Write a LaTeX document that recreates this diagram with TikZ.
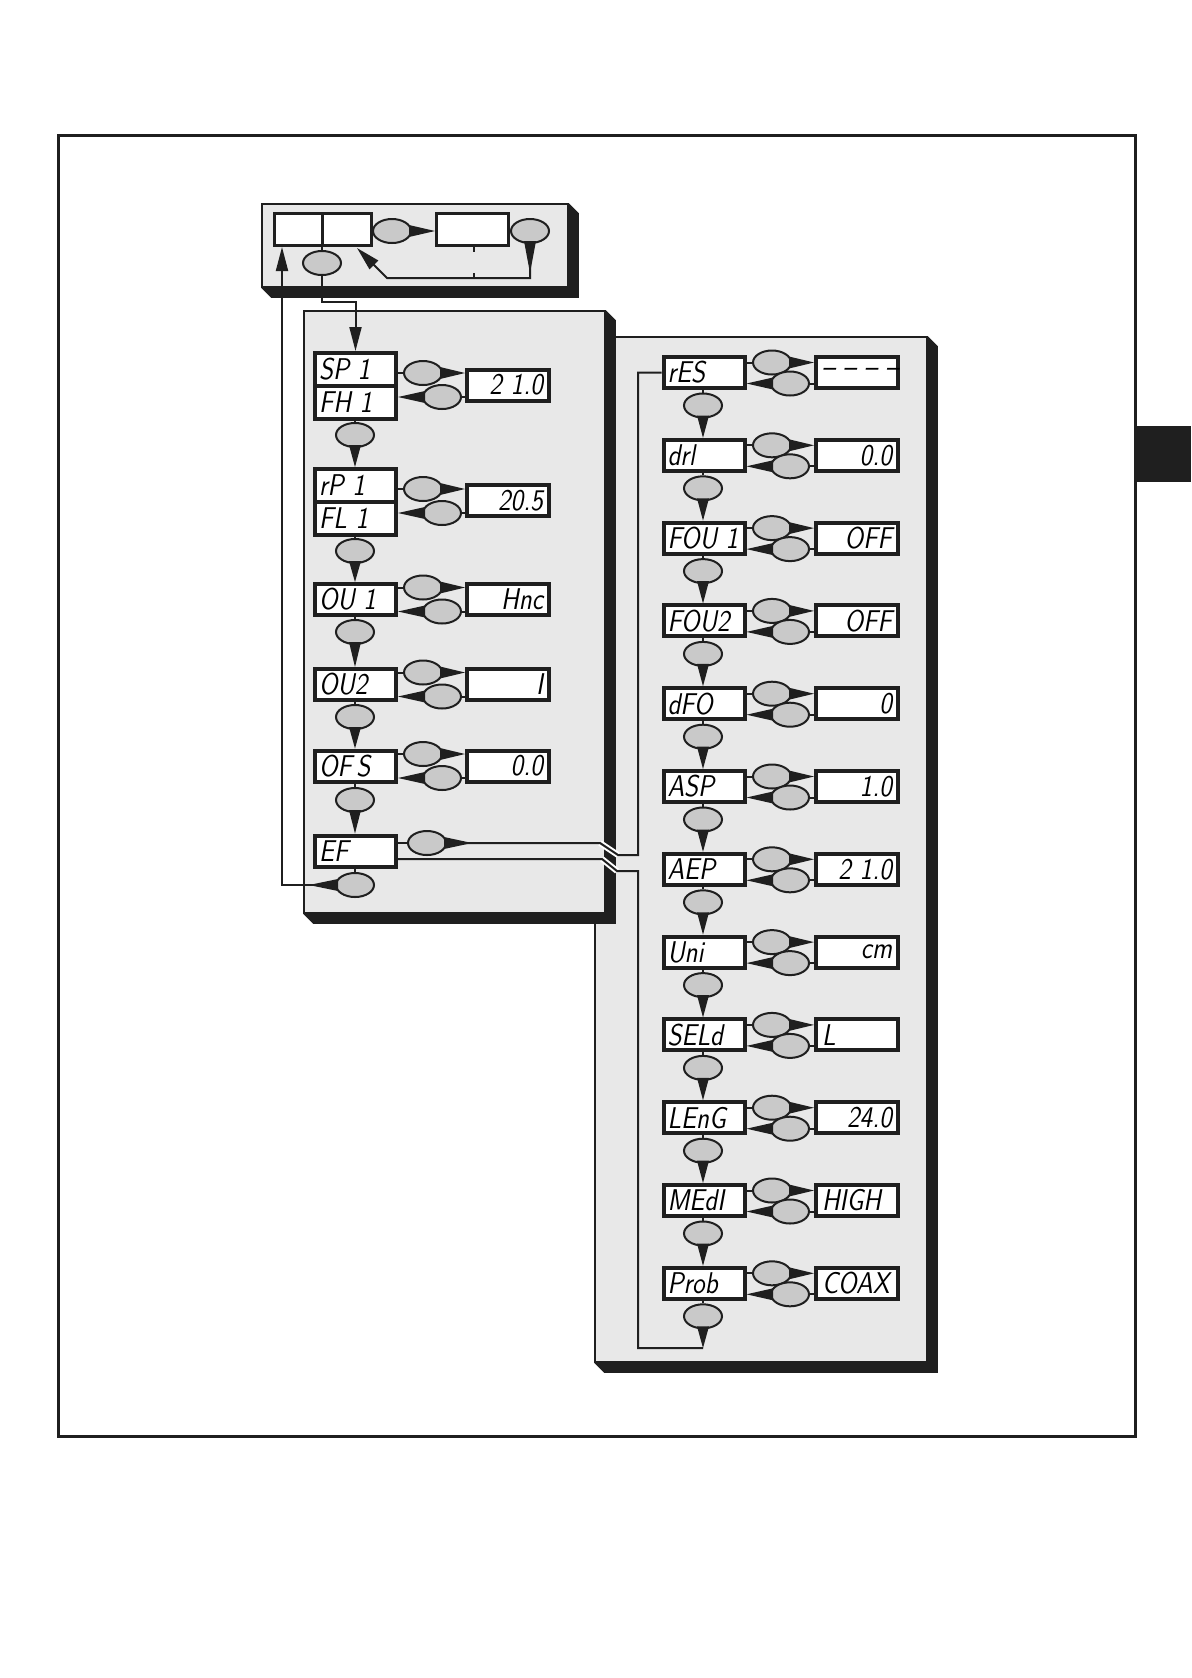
\documentclass[tikz,border=0pt]{standalone}
\usepackage{graphicx}
\usetikzlibrary{shapes.geometric,arrows.meta,calc}
\definecolor{panelc}{gray}{0.91}
\definecolor{ovalc}{gray}{0.79}
\definecolor{inkc}{gray}{0.12}
\newcommand\lcd[1]{\scalebox{0.86}[1]{#1}}
\newcommand\tailE[2]{\fill[inkc] ([shift={(-1.5pt,3pt)}]#1.east) -- (#2) -- ([shift={(-1.5pt,-3pt)}]#1.east) -- cycle;}
\newcommand\tailW[2]{\fill[inkc] ([shift={(1.5pt,3pt)}]#1.west) -- (#2) -- ([shift={(1.5pt,-3pt)}]#1.west) -- cycle;}
\newcommand\tailS[2]{\fill[inkc] ([shift={(3pt,1.5pt)}]#1.south) -- (#2) -- ([shift={(-3pt,1.5pt)}]#1.south) -- cycle;}
\newcommand\shadowbox[1]{\fill[inkc] (#1.north east) -- ($(#1.north east)+(10,10)$) -- ($(#1.south east)+(10,10)$) -- ($(#1.south west)+(10,10)$) -- (#1.south west) -- (#1.south east) -- cycle;}
% right column row: id, index, name, value, align
\newcommand\rrow[5]{%
  \pgfmathsetmacro\rowy{355+82.8*#2+17.5}
  \node[namebox] (#1n) at (704,\rowy) {\lcd{#3}};
  \node[valbox,align=#5] (#1v) at (857,\rowy) {\lcd{#4}};
  \node[ovl] (#1u) at (772,\rowy-10) {};
  \node[ovl] (#1l) at (790,\rowy+11) {};
  \node[ovl] (#1b) at (703,\rowy+33) {};
  \draw[conn] (#1n.east |- #1u) -- (#1u.west);
  \draw[conn] (#1l.east) -- (#1l -| #1v.west);
  \draw[conn] (#1n.south -| #1b) -- (#1b.north);
  \tailE{#1u}{#1u -| #1v.west}
  \tailW{#1l}{#1l -| #1n.east}
}
% left column single row: id, cy, name, value, below-oval y
\newcommand\lrow[5]{%
  \node[namebox] (#1n) at (355.5,#2) {\lcd{#3}};
  \node[valbox] (#1v) at (508,#2) {\lcd{#4}};
  \node[ovl] (#1u) at (423,#2-12) {};
  \node[ovl] (#1l) at (442,#2+12) {};
  \node[ovl] (#1b) at (355,#5) {};
  \draw[conn] (#1n.east |- #1u) -- (#1u.west);
  \draw[conn] (#1l.east) -- (#1l -| #1v.west);
  \draw[conn] (#1n.south -| #1b) -- (#1b.north);
  \tailE{#1u}{#1u -| #1v.west}
  \tailW{#1l}{#1l -| #1n.east}
}
\begin{document}
\begin{tikzpicture}[x=0.5pt,y=-0.5pt,
  lcdf/.style={font=\fontsize{15pt}{15pt}\selectfont\sffamily\slshape},
  namebox/.style={draw=inkc,line width=2pt,fill=white,minimum height=15.5pt,text width=36.5pt,inner xsep=2pt,inner ysep=0pt,align=left,lcdf},
  cellbox/.style={namebox,minimum height=16.5pt},
  valbox/.style={draw=inkc,line width=2pt,fill=white,minimum height=15.5pt,text width=35pt,inner xsep=3pt,inner ysep=0pt,align=right,lcdf},
  ovl/.style={ellipse,draw=inkc,line width=1pt,fill=ovalc,minimum width=19pt,minimum height=12pt,inner sep=0pt},
  conn/.style={draw=inkc,line width=1pt},
  arr/.style={-{Triangle[length=12pt,width=6pt]}},
  panelbox/.style={draw=inkc,line width=0.8pt,fill=panelc,inner sep=0pt},
  topbox/.style={draw=inkc,line width=1.5pt,fill=white,inner sep=0pt,minimum height=16pt}
]
\useasboundingbox (0,0) rectangle (1191,1678);
\draw[inkc,line width=1.5pt] (58,135) rectangle (1135,1436);
\fill[inkc] (1135,426) rectangle (1191,482);

% panels
\node[panelbox,minimum width=166pt,minimum height=512.5pt] (p3) at (761,849.5) {};
\shadowbox{p3}
\node[panelbox,minimum width=150.5pt,minimum height=301pt] (p2) at (454.5,612) {};
\shadowbox{p2}
\node[panelbox,minimum width=153pt,minimum height=41.5pt] (p1) at (415,245.5) {};
\shadowbox{p1}

% top panel
\node[topbox,minimum width=23.75pt] (tl) at (298.25,229.5) {};
\node[topbox,minimum width=24.75pt] (tr) at (346.75,229.5) {};
\node[topbox,minimum width=36pt] (rb) at (472.5,229.5) {};
\node[ovl] (t1) at (392,231) {};
\node[ovl] (t2) at (530,231) {};
\node[ovl] (t3) at (322,263) {};
\coordinate (tby) at (0,278);
\coordinate (dx) at (474,0);
\draw[conn] (tr.east |- t1) -- (t1.west);
\tailE{t1}{t1 -| rb.west}
\draw[conn] (rb.east |- t2) -- (t2.west);
\draw[conn,arr] (t2.south) -- (t2.south |- tby) -- (387,278) -- (357,248);
\tailS{t2}{$(t2.south)+(0,-14.5pt)$}
\draw[conn,dash pattern=on 2.5pt off 10.5pt] (rb.south -| dx) -- (dx |- tby);
\draw[conn] (t3.north |- tl.south) -- (t3.north);

% left column
\node[cellbox] (sp) at (355.5,369.5) {\lcd{SP\,\,1}};
\node[cellbox] (fh) at (355.5,402.5) {\lcd{FH\,\,1}};
\node[valbox] (v1) at (508,385) {\lcd{2\,\,1.0}};
\node[ovl] (u1) at (423,373) {};
\node[ovl] (l1) at (442,397) {};
\node[ovl] (b1) at (355,435) {};
\draw[conn] (sp.east |- u1) -- (u1.west);
\draw[conn] (l1.east) -- (l1 -| v1.west);
\draw[conn] (fh.south -| b1) -- (b1.north);
\tailE{u1}{u1 -| v1.west}
\tailW{l1}{l1 -| fh.east}

\node[cellbox] (rp) at (355.5,485.5) {\lcd{rP\,\,1}};
\node[cellbox] (fl) at (355.5,518.5) {\lcd{FL\,\,1}};
\node[valbox] (v2) at (508,500.5) {\lcd{20.5}};
\node[ovl] (u2) at (423,489) {};
\node[ovl] (l2) at (442,513) {};
\node[ovl] (b2) at (355,551) {};
\draw[conn] (rp.east |- u2) -- (u2.west);
\draw[conn] (l2.east) -- (l2 -| v2.west);
\draw[conn] (fl.south -| b2) -- (b2.north);
\tailE{u2}{u2 -| v2.west}
\tailW{l2}{l2 -| fl.east}
\tailS{b1}{b1 |- rp.north}

\lrow{ou}{599.5}{OU\,\,1}{Hnc}{632}
\tailS{b2}{b2 |- oun.north}
\lrow{oq}{684.5}{OU2}{I}{717}
\tailS{oub}{oub |- oqn.north}
\lrow{of}{766}{OF\,S}{0.0}{800}
\tailS{oqb}{oqb |- ofn.north}

\node[namebox] (efn) at (355.5,851) {\lcd{EF}};
\node[ovl] (efo) at (427,843) {};
\node[ovl] (efb) at (355,885) {};
\tailS{ofb}{ofb |- efn.north}
\draw[conn] (efn.east |- efo) -- (efo.west);
\draw[conn] (efn.south -| efb) -- (efb.north);
\coordinate (lpx) at (282,0);
\draw[conn,arr] (efb.west) -| (lpx |- tl.south);
\tailW{efb}{$(efb.west)+(-13pt,0)$}
\draw[conn,arr] (t3.south) -- ++(0,26) -| (sp.north);

% right column
\rrow{r0}{0}{rES}{\textendash\ \textendash\ \textendash\ \textendash}{right}
\rrow{r1}{1}{drl}{0.0}{right}
\rrow{r2}{2}{FOU\,\,1}{OFF}{right}
\rrow{r3}{3}{FOU2}{OFF}{right}
\rrow{r4}{4}{dFO}{0}{right}
\rrow{r5}{5}{ASP}{1.0}{right}
\rrow{r6}{6}{AEP}{2\,\,1.0}{right}
\rrow{r7}{7}{Uni}{cm}{right}
\rrow{r8}{8}{SELd}{L}{left}
\rrow{r9}{9}{LEnG}{24.0}{right}
\rrow{r10}{10}{MEdI}{HIGH}{left}
\rrow{r11}{11}{Prob}{COAX}{left}
\foreach \ri [evaluate=\ri as \rj using int(\ri+1)] in {0,...,10} {
  \tailS{r\ri b}{r\ri b |- r\rj n.north}
}

% loop connectors between the panels
\coordinate (lx) at (638,0);
\coordinate (ly) at (0,1348);
\draw[white,line width=3pt] (600,843) -- (618,855);
\draw[white,line width=3pt] (602,859) -- (617,871);
\draw[conn] (efo.east) -- (600,843) -- (618,855) -- (638,855) -- (lx |- r0n.west) -- (r0n.west);
\draw[conn] ([yshift=-4pt]efn.east) -- (602,859) -- (617,871) -- (638,871) -- (lx |- ly) -- (r11b |- ly);
\tailE{efo}{$(efo.east)+(12.5pt,0)$}
\tailS{r11b}{r11b |- ly}
\end{tikzpicture}
\end{document}
